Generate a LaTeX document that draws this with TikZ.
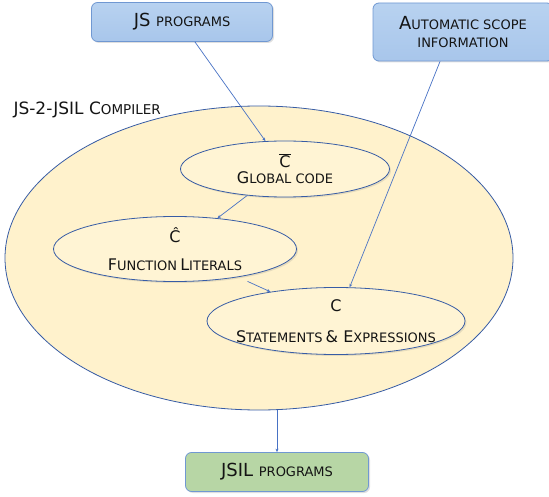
\documentclass[tikz,border=0pt]{standalone}
\usepackage{fontspec}
\setmainfont{DejaVu Sans}
\usepackage{xcolor}
\definecolor{boxblue}{RGB}{168,198,235}
\definecolor{boxbluetop}{RGB}{184,210,240}
\definecolor{boxline}{RGB}{112,152,210}
\definecolor{boxgreen}{RGB}{183,214,165}
\definecolor{yellowfill}{RGB}{255,242,204}
\definecolor{ellfill}{RGB}{255,244,212}
\definecolor{ellline}{RGB}{55,92,165}
\definecolor{linkblue}{RGB}{72,114,196}
\definecolor{txt}{RGB}{20,20,20}
\usetikzlibrary{arrows.meta,shadows,shapes.geometric}
\newcommand{\lgbox}{\fontsize{18}{18}\selectfont}
\newcommand{\smbox}{\fontsize{13}{18}\selectfont}
\newcommand{\lgell}{\fontsize{16}{19}\selectfont}
\newcommand{\smell}{\fontsize{13}{19}\selectfont}

\begin{document}
\begin{tikzpicture}[x=1pt,y=-1pt,
    prog/.style={draw=boxline,line width=0.8pt,rounded corners=6pt,text=txt,inner sep=0pt,
      drop shadow={opacity=0.25,shadow xshift=1.5pt,shadow yshift=-1.5pt}},
    part/.style={ellipse,draw=ellline,line width=0.8pt,fill=ellfill,text=txt,inner xsep=-20pt,
      inner ysep=-10pt,align=center,drop shadow={opacity=0.2,shadow xshift=1.5pt,shadow yshift=-1.5pt}},
    link/.style={draw=linkblue,line width=0.7pt,-{Stealth[length=3.5pt,width=3pt]}}]
  \useasboundingbox (0,0) rectangle (549,497);
  \node[ellipse,draw=ellline,fill=yellowfill,line width=0.8pt,
    minimum width=508,minimum height=304] (comp) at (259,258) {};
  \node[text=txt,anchor=west] (complabel) at (10,110)
    {\fontsize{17}{19}\selectfont JS-2-JSIL C{\fontsize{13.5}{19}\selectfont OMPILER}};
  \node[prog,top color=boxbluetop,bottom color=boxblue,minimum width=181,minimum height=39]
    (js) at (182,22) {\lgbox JS {\smbox PROGRAMS}};
  \node[prog,top color=boxbluetop,bottom color=boxblue,minimum width=180,minimum height=58,
    align=center] (scope) at (463,32)
    {\lgbox A{\smbox UTOMATIC SCOPE}\\[6pt]{\smbox INFORMATION}};
  \node[prog,fill=boxgreen,minimum width=183,minimum height=39]
    (jsil) at (277,472) {\lgbox JSIL {\smbox PROGRAMS}};
  \node[part,minimum width=209,minimum height=56] (glob) at (285,169)
    {\lgell $\overline{\hbox{C}}$\\[3pt]{\lgell G}{\smell LOBAL CODE}};
  \node[part,minimum width=243,minimum height=65] (func) at (175,249)
    {\lgell Ĉ\\[16pt]{\lgell F}{\smell UNCTION} {\lgell L}{\smell ITERALS}};
  \node[part,minimum width=258,minimum height=67] (stmt) at (336,321)
    {\lgell C\\[18pt]{\lgell S}{\smell TATEMENTS} {\lgell \& E}{\smell XPRESSIONS}};
  \draw[link] (js.-57) -- (glob.125);
  \draw[link] (glob.215) -- (func.36);
  \draw[link] ([yshift=-6pt]func.-20) -- (stmt.156);
  \draw[link] (scope.232) -- (stmt.68);
  \draw[link] (comp.south -| jsil.north) -- (jsil.north);
\end{tikzpicture}
\end{document}
